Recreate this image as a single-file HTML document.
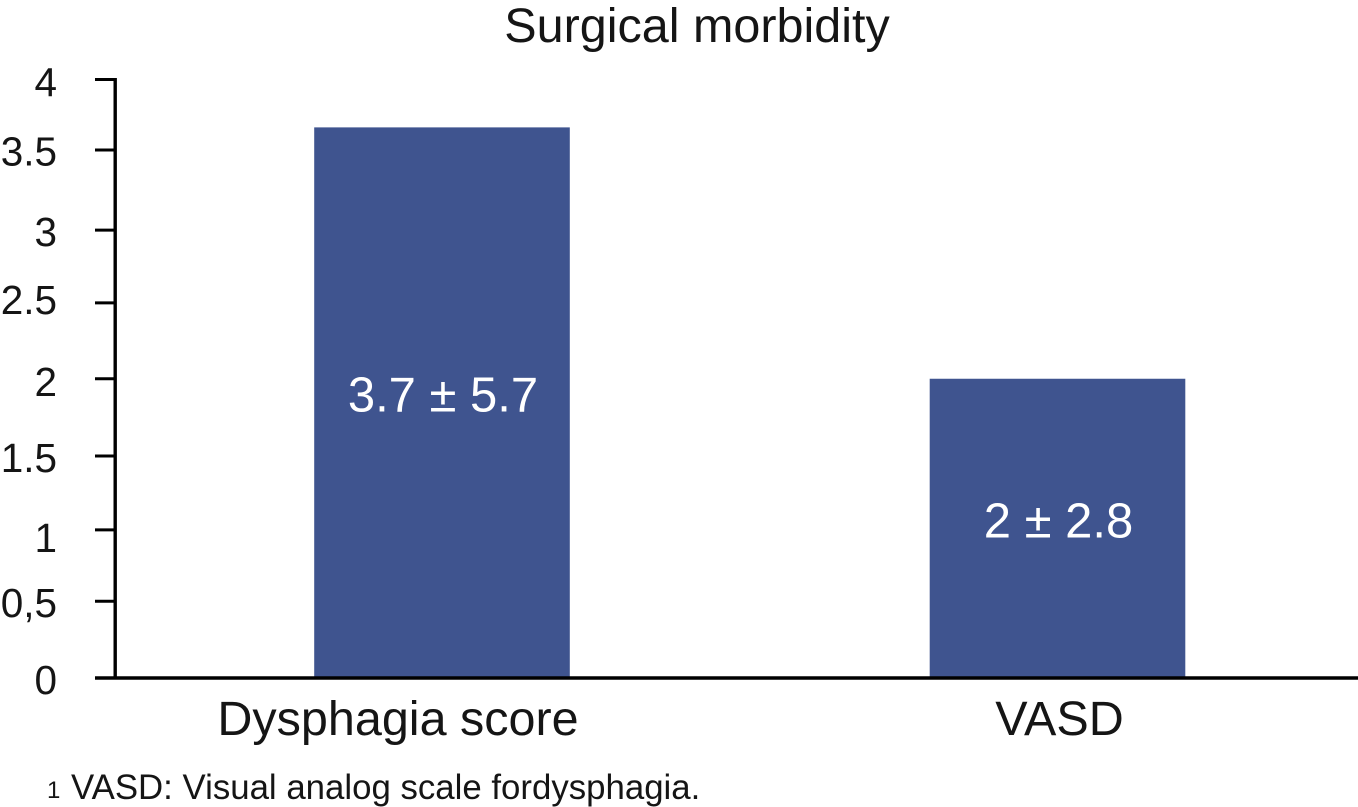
<!DOCTYPE html>
<html>
<head>
<meta charset="utf-8">
<style>
html,body{margin:0;padding:0;background:#fff;}
svg{display:block;}
text{font-family:"Liberation Sans",Arial,sans-serif;fill:#151515;}
</style>
</head>
<body>
<svg id="chart" width="1358" height="807" viewBox="0 0 1358 807" xmlns="http://www.w3.org/2000/svg">
<text x="697" y="42" font-size="48.5" text-anchor="middle">Surgical morbidity</text>
<g id="ticks"></g>
<g id="bars"></g>
<line x1="115.2" y1="78" x2="115.2" y2="679.5" stroke="#000" stroke-width="3.4"/>
<line x1="95" y1="678" x2="1358" y2="678" stroke="#000" stroke-width="3.4"/>
<text x="47" y="798" font-size="24">1</text>
<text x="71" y="799" font-size="34.8">VASD: Visual analog scale fordysphagia.</text>
</svg>
<script>
var categories = ['Dysphagia score', 'VASD'];
var values = [3.68, 2];
var valueLabels = ['3.7 ± 5.7', '2 ± 2.8'];
var tickLabels = ['0', '0,5', '1', '1.5', '2', '2.5', '3', '3.5', '4'];
// Tick marks and their labels are hand-placed and slightly uneven in the source figure; levels.
var tickLevels = [0, 0.513, 0.99, 1.484, 2, 2.507, 2.993, 3.529, 4];
var tickLabelLevels = [0, 0.515, 0.949, 1.484, 1.992, 2.54, 2.995, 3.533, 3.994];

var NS = 'http://www.w3.org/2000/svg';
var y0 = 678, yTop = 79.5;
function yScale(v) { return y0 - (v / 4) * (y0 - yTop); }
function xCenter(i) { return 442 + i * 615.5; }
function valueLabelY(v) { return yScale(v / 2) + 9; }
var barWidth = 255.6;

var ticksG = document.getElementById('ticks');
var barsG = document.getElementById('bars');

tickLabels.forEach(function (label, i) {
  var y = yScale(tickLevels[i]);
  var l = document.createElementNS(NS, 'line');
  
  
  l.setAttribute('x1', 95);
  l.setAttribute('x2', 116);
  l.setAttribute('y1', y);
  l.setAttribute('y2', y);
  l.setAttribute('stroke', '#000');
  l.setAttribute('stroke-width', 3);
  ticksG.appendChild(l);
  var t = document.createElementNS(NS, 'text');
  
  
  t.setAttribute('x', 57);
  t.setAttribute('y', yScale(tickLabelLevels[i]) + 16);
  t.setAttribute('font-size', 40.5);
  t.setAttribute('text-anchor', 'end');
  t.textContent = label;
  ticksG.appendChild(t);
});

categories.forEach(function (c, i) {
  var cx = xCenter(i);
  var top = yScale(values[i]);
  var r = document.createElementNS(NS, 'rect');
  
  
  r.setAttribute('x', cx - barWidth / 2);
  r.setAttribute('y', top);
  r.setAttribute('width', barWidth);
  r.setAttribute('height', y0 - top);
  r.setAttribute('fill', '#3f548f');
  barsG.appendChild(r);
  var vl = document.createElementNS(NS, 'text');
  
  
  vl.setAttribute('x', cx + 1);
  vl.setAttribute('y', valueLabelY(values[i]));
  vl.setAttribute('font-size', 49);
  vl.setAttribute('text-anchor', 'middle');
  vl.style.fill = '#fff';
  vl.textContent = valueLabels[i];
  barsG.appendChild(vl);
  var cl = document.createElementNS(NS, 'text');
  
  
  cl.setAttribute('x', cx + (i === 0 ? -44 : 2));
  cl.setAttribute('y', 735);
  cl.setAttribute('font-size', 48.5);
  cl.setAttribute('text-anchor', 'middle');
  cl.textContent = c;
  barsG.appendChild(cl);
});
</script>
</body>
</html>
